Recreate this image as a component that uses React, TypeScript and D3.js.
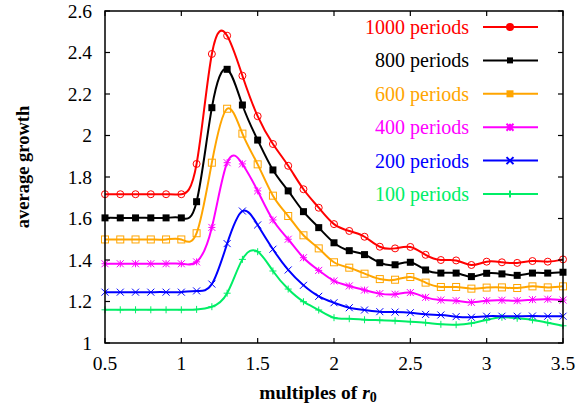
import React from "react";
import * as d3 from "d3";

// Radius multiples (x values of each sample)
const radii = [
  0.5, 0.6, 0.7, 0.8, 0.9, 1.0, 1.1, 1.2, 1.3, 1.4, 1.5, 1.6, 1.7, 1.8, 1.9, 2.0,
  2.1, 2.2, 2.3, 2.4, 2.5, 2.6, 2.7, 2.8, 2.9, 3.0, 3.1, 3.2, 3.3, 3.4, 3.5,
];

const growth1000 = [
  1.717, 1.717, 1.717, 1.717, 1.717, 1.717, 1.863, 2.393, 2.481, 2.288, 2.093, 1.959, 1.854, 1.741, 1.652, 1.573,
  1.540, 1.512, 1.464, 1.456, 1.463, 1.425, 1.400, 1.398, 1.376, 1.392, 1.389, 1.386, 1.395, 1.392, 1.403,
];
const growth800 = [
  1.603, 1.603, 1.603, 1.603, 1.603, 1.603, 1.681, 2.134, 2.319, 2.147, 1.978, 1.834, 1.733, 1.633, 1.556, 1.483,
  1.445, 1.426, 1.387, 1.377, 1.389, 1.352, 1.337, 1.337, 1.320, 1.336, 1.333, 1.326, 1.337, 1.337, 1.341,
];
const growth600 = [
  1.499, 1.499, 1.499, 1.499, 1.499, 1.499, 1.529, 1.869, 2.129, 2.009, 1.861, 1.710, 1.612, 1.519, 1.456, 1.389,
  1.363, 1.334, 1.308, 1.305, 1.318, 1.291, 1.270, 1.270, 1.262, 1.267, 1.268, 1.265, 1.273, 1.268, 1.273,
];
const growth400 = [
  1.382, 1.382, 1.382, 1.382, 1.382, 1.382, 1.391, 1.557, 1.869, 1.863, 1.733, 1.593, 1.500, 1.411, 1.350, 1.299,
  1.275, 1.255, 1.238, 1.235, 1.243, 1.220, 1.207, 1.204, 1.196, 1.204, 1.206, 1.204, 1.209, 1.211, 1.207,
];
const growth200 = [
  1.245, 1.245, 1.245, 1.245, 1.245, 1.245, 1.251, 1.284, 1.479, 1.636, 1.569, 1.452, 1.352, 1.278, 1.225, 1.194,
  1.170, 1.159, 1.151, 1.149, 1.146, 1.138, 1.135, 1.127, 1.124, 1.129, 1.129, 1.129, 1.130, 1.129, 1.129,
];
const growth100 = [
  1.160, 1.160, 1.160, 1.160, 1.160, 1.160, 1.162, 1.175, 1.240, 1.403, 1.440, 1.347, 1.260, 1.199, 1.159, 1.122,
  1.117, 1.112, 1.110, 1.107, 1.103, 1.098, 1.090, 1.088, 1.095, 1.111, 1.124, 1.119, 1.111, 1.098, 1.083,
];

const seriesLabels = ["1000 periods", "800 periods", "600 periods", "400 periods", "200 periods", "100 periods"];
const seriesValues = [growth1000, growth800, growth600, growth400, growth200, growth100];
const seriesColors = ["#ff0000", "#000000", "#ffa500", "#ff00ff", "#0000ff", "#00ee66"];
const seriesMarkers = ["circle", "filledSquare", "openSquare", "star", "cross", "plus"];

const xTicks = [0.5, 1, 1.5, 2, 2.5, 3, 3.5];
const yTicks = [1, 1.2, 1.4, 1.6, 1.8, 2, 2.2, 2.4, 2.6];

const W = 579;
const H = 411;
const plot = { left: 105, right: 563, top: 11, bottom: 343 };
const serifStack =
  '"Liberation Serif", "Tinos", "Times New Roman", "Nimbus Roman", "Noto Serif", "DejaVu Serif", "FreeSerif", serif';

function Marker({ kind, x, y, color, legend }: { kind: string; x: number; y: number; color: string; legend?: boolean }) {
  switch (kind) {
    case "circle":
      return legend ? (
        <circle cx={x} cy={y} r={4} fill={color} />
      ) : (
        <circle cx={x} cy={y} r={3.5} fill="none" stroke={color} strokeWidth={1} />
      );
    case "filledSquare": {
      const s = legend ? 6 : 7;
      return <rect x={x - s / 2} y={y - s / 2} width={s} height={s} fill={color} />;
    }
    case "openSquare": {
      const s = 7;
      return legend ? (
        <rect x={x - s / 2} y={y - s / 2} width={s} height={s} fill={color} />
      ) : (
        <rect x={x - s / 2} y={y - s / 2} width={s} height={s} fill="none" stroke={color} strokeWidth={1} />
      );
    }
    case "star": {
      const s = 3.5;
      return (
        <path
          d={`M${x - s},${y}H${x + s}M${x},${y - s}V${y + s}M${x - s},${y - s}L${x + s},${y + s}M${x - s},${y + s}L${x + s},${y - s}`}
          stroke={color}
          strokeWidth={legend ? 2 : 1}
          fill="none"
        />
      );
    }
    case "cross": {
      const s = 3.5;
      return (
        <path
          d={`M${x - s},${y - s}L${x + s},${y + s}M${x - s},${y + s}L${x + s},${y - s}`}
          stroke={color}
          strokeWidth={legend ? 2 : 1}
          fill="none"
        />
      );
    }
    default: {
      const s = 3.5;
      return (
        <path d={`M${x - s},${y}H${x + s}M${x},${y - s}V${y + s}`} stroke={color} strokeWidth={legend ? 2 : 1} fill="none" />
      );
    }
  }
}

export default function App() {
  const x = d3.scaleLinear().domain([0.5, 3.5]).range([plot.left, plot.right]);
  const y = d3.scaleLinear().domain([1, 2.6]).range([plot.bottom, plot.top]);
  const line = d3
    .line<number>()
    .x((_, i) => x(radii[i]))
    .y((d) => y(d))
    .curve(d3.curveNatural);

  const order = [5, 4, 3, 2, 1, 0];
  const legendX = 469;
  const legendY0 = 27;
  const legendDy = 33.4;

  return (
    <div style={{ position: "fixed", left: 0, top: 0, width: W, height: H, fontFamily: serifStack }}>
      <svg width={W} height={H} viewBox={`0 0 ${W} ${H}`} style={{ display: "block", background: "#fff" }}>
        <rect x={0} y={0} width={W} height={H} fill="#fff" />

        {/* series curves and markers */}
        {order.map((k) => (
          <g key={seriesLabels[k]}>
            <path d={line(seriesValues[k]) || ""} fill="none" stroke={seriesColors[k]} strokeWidth={2} />
            {seriesValues[k].map((v, i) => (
              <Marker key={i} kind={seriesMarkers[k]} x={x(radii[i])} y={y(v)} color={seriesColors[k]} />
            ))}
          </g>
        ))}

        {/* frame and ticks */}
        <rect
          x={plot.left}
          y={plot.top}
          width={plot.right - plot.left}
          height={plot.bottom - plot.top}
          fill="none"
          stroke="#000"
          strokeWidth={1.5}
        />
        <g fontFamily={serifStack}>
          {xTicks.map((t) => (
            <g key={`x${t}`}>
              <line x1={x(t)} x2={x(t)} y1={plot.bottom} y2={plot.bottom - 5} stroke="#000" strokeWidth={1.2} />
              <line x1={x(t)} x2={x(t)} y1={plot.top} y2={plot.top + 5} stroke="#000" strokeWidth={1.2} />
              <text x={x(t)} y={plot.bottom + 20} textAnchor="middle" dominantBaseline="central" fontSize={19.5}>
                {t}
              </text>
            </g>
          ))}
          {yTicks.map((t) => (
            <g key={`y${t}`}>
              <line x1={plot.left} x2={plot.left + 5} y1={y(t)} y2={y(t)} stroke="#000" strokeWidth={1.2} />
              <line x1={plot.right} x2={plot.right - 5} y1={y(t)} y2={y(t)} stroke="#000" strokeWidth={1.2} />
              <text x={92} y={y(t)} textAnchor="end" dominantBaseline="central" fontSize={19.5}>
                {t}
              </text>
            </g>
          ))}

          {/* legend */}
          {seriesLabels.map((label, k) => {
            const ly = legendY0 + k * legendDy;
            return (
              <g key={label}>
                <text x={legendX} y={ly} textAnchor="end" dominantBaseline="central" fontSize={20} fill={seriesColors[k]}>
                  {label}
                </text>
                <line x1={483} x2={538} y1={ly} y2={ly} stroke={seriesColors[k]} strokeWidth={2} />
                <Marker kind={seriesMarkers[k]} x={510} y={ly} color={seriesColors[k]} legend />
              </g>
            );
          })}

          {/* axis titles */}
          <text
            transform="translate(23,167) rotate(-90)"
            textAnchor="middle"
            dominantBaseline="central"
            fontSize={18.5}
            fontWeight="bold"
          >
            average growth
          </text>
          <text x={318} y={399} textAnchor="middle" fontSize={19.5} fontWeight="bold">
            multiples of{" "}
            <tspan fontStyle="italic">r</tspan>
            <tspan fontSize={14} dy={3}>
              0
            </tspan>
          </text>
        </g>
      </svg>
    </div>
  );
}
